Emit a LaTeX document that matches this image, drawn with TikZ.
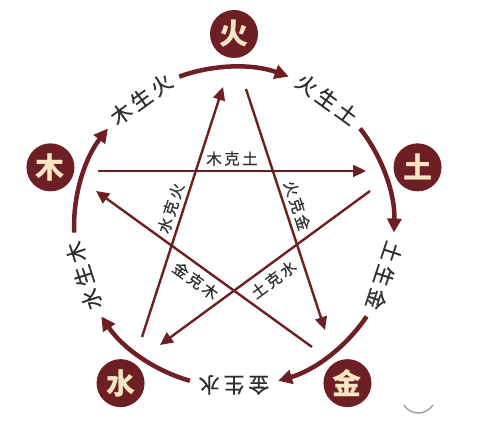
\documentclass[tikz,border=0pt]{standalone}
\usepackage{fontspec}
\newfontfamily\cjk{Noto Sans CJK SC}
\newfontfamily\cjksheng[LetterSpace=18,FakeBold=0.5]{Noto Sans CJK SC}
\newfontfamily\cjkke[LetterSpace=16,FakeBold=0.4]{Noto Sans CJK SC}
\usepackage{tikz}
\usepackage{xcolor}
\usetikzlibrary{positioning}
\usetikzlibrary{arrows.meta}

\definecolor{wxred}{HTML}{6D1F24}
\definecolor{wxcream}{HTML}{F7E5C4}
\definecolor{wxtext}{HTML}{2E2E2E}

\tikzset{
  element/.style={circle,fill=wxred,minimum size=48pt,inner sep=0pt,text=wxcream,font=\cjk\bfseries\fontsize{29}{29}\selectfont},
  ke/.style={draw=wxred,line width=2.4pt,-{Triangle[length=13pt,width=12pt]}},
  sheng/.style={draw=wxred,line width=4.5pt,-{Triangle[length=14pt,width=14pt]}},
  kelabel/.style={text=wxtext,inner sep=2pt,font=\cjkke\fontsize{15.5}{15.5}\selectfont},
  shenglabel/.style={text=wxtext,inner sep=0pt,font=\cjksheng\fontsize{21}{21}\selectfont},
}

\begin{document}
\begin{tikzpicture}[x=1pt,y=1pt]

\useasboundingbox (0,0) rectangle (480,435);

\coordinate (c) at (234,208);

\node (huo) at ([shift={(90:193)}]c) [element] {火};
\node (mu) at ([shift={(162:193)}]c) [element] {木};
\node (tu) at ([shift={(18:193)}]c) [element] {土};
\node (shui) at ([shift={(234:193)}]c) [element] {水};
\node (jin) at ([shift={(306:193)}]c) [element] {金};

\coordinate (shenghuo) at ([shift={(182:160)}]c);
\coordinate (shengtu) at ([shift={(110:160)}]c);
\coordinate (shengjin) at ([shift={(38:160)}]c);
\coordinate (shengshui) at ([shift={(-34:160)}]c);
\coordinate (shengmu) at ([shift={(-106:160)}]c);

\draw[sheng] (shenghuo) arc[start angle=182,end angle=142,radius=160pt];
\draw[sheng] (shengtu) arc[start angle=110,end angle=70,radius=160pt];
\draw[sheng] (shengjin) arc[start angle=38,end angle=-2,radius=160pt];
\draw[sheng] (shengshui) arc[start angle=-34,end angle=-74,radius=160pt];
\draw[sheng] (shengmu) arc[start angle=-106,end angle=-146,radius=160pt];

\node (muhuo) at ([shift={(126:158)}]c) [shenglabel,rotate=36] {木生火};
\node (hutu) at ([shift={(54:158)}]c) [shenglabel,rotate=-36] {火生土};
\node (tujin) at ([shift={(-18:158)}]c) [shenglabel,rotate=-108] {土生金};
\node (jinshui) at ([shift={(-90:158)}]c) [shenglabel,rotate=-180] {金生水};
\node (shuimu) at ([shift={(198:158)}]c) [shenglabel,rotate=108] {水生木};

\coordinate (keumu) at (98,264);
\coordinate (ketu) at (366,264);
\coordinate (keshui) at (142,98);
\coordinate (kehuo) at (223,348);
\coordinate (kehuob) at (246,346);
\coordinate (kejin) at (325,105);
\coordinate (kejinb) at (312,88);
\coordinate (kemu) at (96,244);
\coordinate (ketub) at (370,244);
\coordinate (keshuib) at (160,90);

\draw[ke] (keumu) -- (ketu) node[midway,above=2pt,kelabel] {木克土};
\draw[ke] (keshui) -- (kehuo) node[midway,sloped,above=2pt,kelabel] {水克火};
\draw[ke] (kehuob) -- (kejin) node[midway,sloped,above=2pt,kelabel] {火克金};
\draw[ke] (kejinb) -- (kemu) node[midway,sloped,below=4pt,kelabel] {金克木};
\draw[ke] (ketub) -- (keshuib) node[midway,sloped,below=4pt,kelabel] {土克水};

\draw[gray!80,line width=1.3pt] (404,30) arc[start angle=212,end angle=328,radius=17pt];

\end{tikzpicture}
\end{document}
